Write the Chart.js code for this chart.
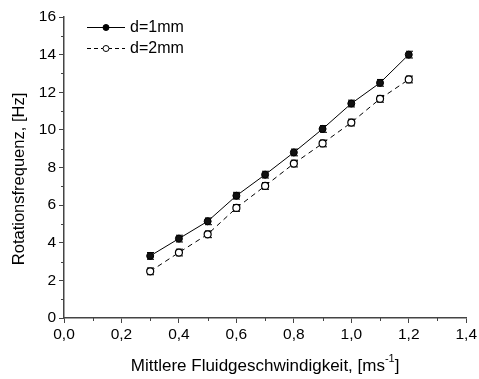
<!DOCTYPE html>
<html>
<head>
<meta charset="utf-8">
<script src="https://cdn.jsdelivr.net/npm/chart.js@4/dist/chart.umd.min.js"></script>
<style>
  html, body { margin: 0; padding: 0; background: #fff; }
  #wrap { width: 479px; height: 379px; }
</style>
</head>
<body>
<div id="wrap"><canvas id="c" width="479" height="379"></canvas></div>
<script>
// Mean fluid velocity [m/s]
const velocities = [0.3, 0.4, 0.5, 0.6, 0.7, 0.8, 0.9, 1.0, 1.1, 1.2];
// Rotation frequency [Hz] for both nozzle diameters
const freq1mm = [3.3, 4.22, 5.14, 6.5, 7.62, 8.8, 10.05, 11.4, 12.5, 14.0];
const freq2mm = [2.48, 3.48, 4.45, 5.85, 7.02, 8.21, 9.28, 10.39, 11.65, 12.68];
// Measurement uncertainty [Hz]
const err1mm = [0.18, 0.18, 0.18, 0.18, 0.18, 0.18, 0.18, 0.18, 0.18, 0.18];
const err2mm = [0.18, 0.18, 0.18, 0.18, 0.18, 0.18, 0.18, 0.18, 0.18, 0.18];
const seriesLabels = ['d=1mm', 'd=2mm'];
const xTitle = 'Mittlere Fluidgeschwindigkeit, [ms';
const yTitle = 'Rotationsfrequenz, [Hz]';

const FONT = '"Liberation Sans", Arial, sans-serif';
const AXIS = '#444';

function toPoints(xs, ys) { return xs.map((x, i) => ({ x: x, y: ys[i] })); }

// Error bars with caps, drawn beneath the markers
const errorBars = {
  id: 'errorBars',
  beforeDatasetsDraw(chart) {
    const { ctx, scales: { x, y } } = chart;
    ctx.save();
    ctx.strokeStyle = '#000';
    ctx.lineWidth = 1;
    chart.data.datasets.forEach(ds => {
      ds.data.forEach((p, i) => {
        const e = ds.errors[i];
        const px = Math.round(x.getPixelForValue(p.x)) + 0.5;
        const top = y.getPixelForValue(p.y + e);
        const bot = y.getPixelForValue(p.y - e);
        ctx.beginPath();
        ctx.moveTo(px, top); ctx.lineTo(px, bot);
        ctx.moveTo(px - 3.5, top); ctx.lineTo(px + 3.5, top);
        ctx.moveTo(px - 3.5, bot); ctx.lineTo(px + 3.5, bot);
        ctx.stroke();
      });
    });
    ctx.restore();
  }
};

// Minor ticks, axis titles and the legend box
const decorations = {
  id: 'decorations',
  afterDraw(chart) {
    const { ctx, chartArea: a, scales: { x, y } } = chart;
    ctx.save();
    ctx.strokeStyle = AXIS;
    ctx.lineWidth = 1;
    ctx.beginPath();
    for (let v = 1; v < 16; v += 2) {
      const py = Math.round(y.getPixelForValue(v)) + 0.5;
      ctx.moveTo(a.left, py); ctx.lineTo(a.left - 3, py);
    }
    for (let v = 0.1; v < 1.4; v += 0.2) {
      const px = Math.round(x.getPixelForValue(v)) + 0.5;
      ctx.moveTo(px, a.bottom); ctx.lineTo(px, a.bottom + 3);
    }
    ctx.stroke();

    // axis titles
    ctx.fillStyle = '#000';
    ctx.font = '17px ' + FONT;
    ctx.textBaseline = 'middle';
    const cx = (a.left + a.right) / 2;
    const mainW = ctx.measureText(xTitle).width;
    ctx.font = '11px ' + FONT;
    const supW = ctx.measureText('-1').width;
    ctx.font = '17px ' + FONT;
    const closeW = ctx.measureText(']').width;
    const total = mainW + supW + closeW;
    let sx = cx - total / 2;
    ctx.textAlign = 'left';
    ctx.fillText(xTitle, sx, 366);
    ctx.font = '11px ' + FONT;
    ctx.fillText('-1', sx + mainW, 359);
    ctx.font = '17px ' + FONT;
    ctx.fillText(']', sx + mainW + supW, 366);

    ctx.save();
    ctx.translate(19, 179);
    ctx.rotate(-Math.PI / 2);
    ctx.textAlign = 'center';
    ctx.font = '16.5px ' + FONT;
    ctx.fillText(yTitle, 0, 0);
    ctx.restore();

    // legend
    const rows = [
      { y: 27, dash: [], fill: '#000' },
      { y: 48, dash: [4, 3], fill: '#fff' }
    ];
    rows.forEach((r, i) => {
      ctx.strokeStyle = '#000';
      ctx.setLineDash(r.dash);
      ctx.beginPath();
      ctx.moveTo(87, r.y + 0.5); ctx.lineTo(125, r.y + 0.5);
      ctx.stroke();
      ctx.setLineDash([]);
      ctx.beginPath();
      ctx.arc(106, r.y + 0.5, 3, 0, Math.PI * 2);
      ctx.fillStyle = r.fill;
      ctx.fill();
      ctx.stroke();
      ctx.fillStyle = '#000';
      ctx.font = '16px ' + FONT;
      ctx.textAlign = 'left';
      ctx.fillText(seriesLabels[i], 130, r.y + 1);
    });
    ctx.restore();
  }
};

new Chart(document.getElementById('c'), {
  type: 'line',
  data: {
    datasets: [
      {
        label: seriesLabels[0],
        data: toPoints(velocities, freq1mm),
        errors: err1mm,
        borderColor: '#000',
        borderWidth: 1,
        backgroundColor: '#000',
        pointBackgroundColor: '#111',
        pointBorderColor: '#000',
        pointRadius: 3.5,
        pointBorderWidth: 1,
        tension: 0
      },
      {
        label: seriesLabels[1],
        data: toPoints(velocities, freq2mm),
        errors: err2mm,
        borderColor: '#000',
        borderWidth: 1,
        borderDash: [5, 4],
        backgroundColor: '#fff',
        pointBackgroundColor: '#fff',
        pointBorderColor: '#000',
        pointRadius: 3.5,
        pointBorderWidth: 1.2,
        tension: 0
      }
    ]
  },
  options: {
    responsive: false,
    animation: false,
    layout: { padding: { top: 17, right: 10, left: 0, bottom: 0 } },
    plugins: { legend: { display: false }, tooltip: { enabled: false } },
    scales: {
      x: {
        type: 'linear',
        min: 0, max: 1.4,
        afterFit(s) { s.height = 61; },
        border: { display: true, color: AXIS, width: 1.5 },
        grid: { display: true, drawOnChartArea: false, drawTicks: true, tickLength: 5, color: AXIS },
        ticks: {
          stepSize: 0.2, padding: 2, color: '#000',
          font: { family: FONT, size: 15.5 },
          callback: v => v.toFixed(1).replace('.', ',')
        }
      },
      y: {
        type: 'linear',
        min: 0, max: 16,
        afterFit(s) { s.width = 64; },
        border: { display: true, color: AXIS, width: 1.5 },
        grid: { display: true, drawOnChartArea: false, drawTicks: true, tickLength: 5, color: AXIS },
        ticks: {
          stepSize: 2, padding: 3, color: '#000',
          font: { family: FONT, size: 15.5 }
        }
      }
    }
  },
  plugins: [errorBars, decorations]
});
</script>
</body>
</html>
